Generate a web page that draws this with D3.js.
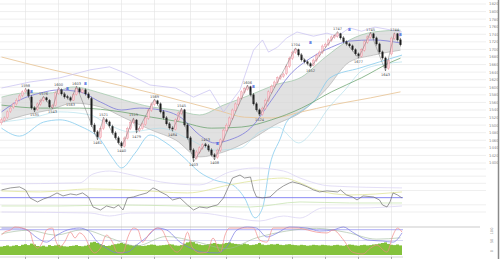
<!DOCTYPE html>
<html>
<head>
<meta charset="utf-8">
<script src="https://cdn.jsdelivr.net/npm/d3@7"></script>
<style>
  body { margin: 0; background: #fff; }
  svg { display: block; }
</style>
</head>
<body>
<script>
// daily candles (price units)
var opens = [
  1506,1512,1520,1536,1547,1556,1567,1578,1589,1594,
  1575,1546,1541,1555,1566,1573,1566,1547,1552,1584,
  1594,1583,1576,1573,1566,1581,1597,1587,1594,1583,
  1571,1501,1483,1468,1491,1515,1509,1497,1480,1467,
  1454,1444,1465,1491,1507,1514,1486,1491,1502,1518,
  1539,1555,1565,1557,1536,1520,1504,1493,1489,1513,
  1531,1541,1501,1467,1435,1412,1428,1439,1449,1446,
  1435,1422,1415,1433,1460,1486,1499,1518,1539,1555,
  1571,1587,1595,1602,1581,1557,1541,1528,1544,1565,
  1587,1602,1613,1624,1629,1636,1655,1676,1692,1700,
  1686,1673,1668,1663,1658,1671,1684,1692,1708,1713,
  1724,1732,1735,1742,1731,1721,1715,1710,1700,1689,
  1682,1698,1719,1732,1742,1731,1715,1694,1678,1650,
  1688,1729,1742,1726];
var highs = [
  1519,1523,1539,1550,1560,1571,1582,1592,1598,1596,
  1579,1550,1560,1570,1576,1575,1569,1556,1589,1600,
  1597,1587,1580,1576,1586,1603,1600,1597,1597,1587,
  1575,1506,1487,1497,1521,1518,1512,1501,1484,1471,
  1458,1470,1496,1512,1519,1516,1497,1507,1523,1544,
  1560,1569,1567,1560,1540,1524,1508,1497,1518,1536,
  1545,1543,1505,1471,1439,1434,1444,1452,1453,1450,
  1439,1426,1438,1465,1491,1505,1523,1544,1560,1576,
  1592,1600,1606,1604,1585,1561,1544,1549,1570,1592,
  1607,1618,1629,1634,1639,1660,1681,1697,1704,1702,
  1690,1676,1671,1666,1676,1689,1697,1713,1718,1729,
  1737,1740,1747,1744,1735,1724,1718,1713,1703,1692,
  1703,1724,1737,1745,1744,1734,1718,1697,1681,1676,
  1734,1744,1743,1730];
var lows = [
  1501,1508,1516,1532,1543,1552,1563,1574,1585,1573,
  1541,1535,1538,1551,1562,1562,1545,1543,1549,1580,
  1578,1570,1568,1563,1564,1578,1584,1584,1578,1568,
  1495,1477,1461,1464,1487,1504,1494,1475,1462,1449,
  1440,1441,1462,1487,1503,1479,1482,1488,1498,1514,
  1535,1551,1552,1531,1515,1499,1488,1484,1486,1509,
  1527,1496,1462,1430,1403,1409,1424,1435,1441,1430,
  1417,1408,1411,1429,1456,1482,1495,1514,1535,1551,
  1567,1583,1591,1576,1552,1536,1524,1525,1540,1561,
  1583,1598,1609,1620,1625,1632,1651,1672,1688,1681,
  1668,1663,1658,1652,1655,1667,1680,1688,1704,1709,
  1720,1728,1731,1726,1716,1710,1705,1695,1684,1677,
  1679,1694,1715,1728,1726,1710,1689,1673,1643,1646,
  1684,1725,1721,1708];
var closes = [
  1514,1519,1535,1545,1556,1566,1577,1588,1593,1577,
  1545,1540,1556,1566,1572,1566,1548,1551,1585,1593,
  1582,1574,1572,1566,1582,1596,1588,1593,1582,1572,
  1500,1482,1469,1492,1514,1508,1498,1479,1466,1453,
  1445,1466,1492,1508,1514,1487,1492,1503,1519,1540,
  1556,1564,1556,1535,1519,1503,1492,1490,1514,1532,
  1540,1500,1466,1434,1413,1429,1440,1448,1445,1434,
  1421,1416,1434,1461,1487,1500,1519,1540,1556,1572,
  1588,1596,1601,1580,1556,1540,1529,1545,1566,1588,
  1603,1614,1625,1630,1635,1656,1677,1693,1699,1685,
  1672,1667,1662,1656,1672,1685,1693,1709,1714,1725,
  1733,1736,1741,1730,1720,1714,1709,1699,1688,1683,
  1699,1720,1733,1741,1730,1714,1693,1677,1651,1672,
  1730,1741,1725,1712];
var volumes = [
  28,30,32,29,31,33,30,34,36,33, 38,35,30,29,31,28,33,30,32,34,
  31,29,28,30,31,33,30,29,31,34, 42,44,40,36,33,30,31,34,36,38,
  40,37,35,33,31,34,32,30,31,33, 35,34,31,32,33,34,36,35,32,31,
  33,38,42,45,43,38,35,33,34,36, 38,40,37,36,38,40,42,39,37,36,
  35,38,36,33,34,36,40,35,33,34, 36,35,37,34,33,35,36,34,33,32,
  34,33,31,32,34,33,32,34,33,32, 31,33,34,32,31,33,35,34,32,31,
  33,34,32,33,35,36,38,40,42,37, 34,33,35,32];

// turning points (day index, H = high / L = low)
var pivotDays  = [8,11,14,17,19,23,25,32,34,40,44,45,51,57,60,64,68,71,82,86,98,103,112,119,123,128,131];
var pivotKinds = ['H','L','H','L','H','L','H','L','H','L','H','L','H','L','H','L','H','L','H','L','H','L','H','L','H','L','H'];

// month grid (day index) and price ticks
var monthDays = [8,19,29,40,51,63,75,86,97,108,119,130];
var priceTicks = [1400,1420,1440,1460,1480,1500,1520,1540,1560,1580,1600,1620,1640,1660,1680,1700,1720,1740,1760,1780,1800,1820];
var oscTicks = [-10,-5,5,10,15,20];
var stochLabels = ['100','50','0'];

// indicator lines [day, price]
var longMA = [[0,1680],[16,1648],[33,1617],[50,1585],[63,1558],[73,1537],[81,1521],[90,1519],[100,1535],[110,1553],[123,1572],[133,1588]];
var midMA = [[0,1535],[6,1566],[13,1585],[19,1593],[26,1588],[33,1561],[40,1540],[46,1545],[53,1540],[60,1519],[66,1474],[71,1453],[76,1461],[83,1492],[90,1566],[96,1632],[103,1677],[110,1706],[116,1722],[124,1725],[133,1717]];
var slowMA = [[0,1553],[13,1545],[26,1545],[40,1535],[50,1521],[60,1508],[70,1492],[80,1495],[90,1514],[100,1545],[110,1588],[120,1625],[130,1667],[133,1677]];
var cloudDays = [0,8,16,24,33,41,50,58,66,74,83,91,100,108,116,124,133];
var spanA = [1574,1585,1585,1601,1585,1566,1548,1540,1527,1553,1580,1606,1627,1680,1725,1746,1751];
var spanB = [1508,1527,1540,1558,1548,1519,1487,1461,1416,1429,1461,1500,1535,1593,1667,1685,1698];
var upperBand = [[0,1598],[9.5,1614],[19.5,1625],[29.5,1646],[36,1654],[43,1632],[49.5,1606],[58,1598],[64,1574],[69.5,1593],[74,1535],[79.5,1593],[84,1698],[87,1725],[89,1693],[92,1706],[95,1730],[98.5,1746],[104,1735],[108.5,1743],[112,1735],[116,1757],[120,1748],[124.5,1759],[133.5,1746]];
var lowerBand = [[0,1492],[6,1471],[14,1508],[19.5,1514],[26,1498],[33,1461],[37,1413],[40,1387],[44.5,1426],[49.5,1474],[54.5,1455],[61,1413],[66,1376],[71,1355],[77,1342],[81,1308],[84.5,1255],[87,1281],[89.5,1395],[93,1466],[95,1508],[99.5,1535],[104.5,1566],[109.5,1625],[119.5,1651],[126,1667],[133.5,1685]];
var lowerBand2 = [[0,1508],[10,1519],[19.5,1535],[29.5,1527],[36,1500],[43,1482],[53,1492],[63,1461],[71,1434],[79.5,1439],[86,1482],[92,1495],[99,1453],[104,1487],[108.5,1540],[114.5,1593],[120.5,1646],[128,1662],[133.5,1667]];
var blueMarks = [[10,1585],[22,1593],[28,1606],[72,1447],[84,1597],[103,1714],[116,1749],[133,1735]];

// oscillator panel [day, value]
var oscMain = [[0,5.4],[3,6.8],[6,7.5],[8,5.4],[9.5,-0.2],[12,-3.0],[14,-0.9],[16,0.5],[18.5,3.3],[20.5,1.2],[23,2.6],[25,1.9],[27,3.3],[29,0.5],[30.5,-6.5],[33,-8.6],[35,-5.8],[37.5,-7.2],[39,-5.1],[40.5,-8.6],[42,-0.2],[44,0.5],[46,1.9],[48.5,3.3],[50.5,6.8],[52,5.4],[53,4.0],[55,1.9],[57,-1.6],[59.5,-0.2],[62,-5.1],[64,-8.6],[66,-6.5],[68.5,-7.2],[70.5,-5.8],[72,-5.1],[74,-0.2],[75.5,6.8],[77,13.7],[79.5,15.8],[81,13.7],[83,14.4],[84,5.4],[85,0.5],[87,-0.2],[89.5,0.5],[92,5.4],[94,8.2],[96,10.3],[97,11.0],[99.5,9.6],[102,7.5],[104,5.4],[106,4.0],[108.5,4.7],[112,4.0],[113,5.4],[115,1.9],[117,0.5],[118.5,-1.6],[120.5,1.2],[124,0.5],[126,-1.6],[127,-5.1],[128.5,-6.5],[129.5,-3.0],[130.5,3.3],[132,1.9],[133.5,-0.2]];
var oscUpper = [[0,4.7],[13,4.0],[29.5,6.1],[43,5.4],[62,3.3],[76,8.9],[86,12.4],[94,13.7],[99.5,10.3],[105,5.4],[116,1.9],[133.5,4.0]];
var oscUpper2 = [[0,9.6],[26,10.3],[30.5,16.5],[36,18.6],[42,16.5],[53,11.0],[66,8.9],[76,17.9],[84.5,20.7],[94,18.6],[99.5,13.7],[109.5,8.2],[133.5,6.8]];
var oscLower = [[0,-5.8],[19.5,-5.8],[39.5,-5.1],[59.5,-5.8],[83,-6.5],[99.5,-3.0],[116,-3.7],[133.5,-3.7]];
var oscLower2 = [[0,-10],[29.5,-10.7],[36,-12.8],[43,-10.7],[66,-10.7],[76,-13.5],[86,-16.3],[94,-12.8],[99.5,-14.2],[107,-7.2],[119.5,-7.2],[133.5,-5.8]];

// stochastics panel [day, %]
var stochK = [[0,70],[1,81],[3,89],[4.5,100],[7,96],[9.5,81],[10.5,44],[12,22],[13.5,41],[15,89],[17,96],[18,52],[19.5,26],[21,44],[23,81],[24.5,59],[26,78],[28,59],[29.5,22],[31,4],[33,22],[35,70],[37,44],[38.5,7],[40.5,4],[42,59],[44,96],[45.5,89],[47,44],[49.5,78],[52,96],[53.5,89],[55.5,44],[58.5,7],[60.5,33],[62,81],[63.5,26],[66,4],[68.5,7],[70.5,59],[73,7],[74.5,70],[76,96],[79.5,96],[84,96],[86,52],[88.5,44],[90.5,96],[95,96],[98.5,96],[102,89],[105,81],[108.5,78],[110.5,89],[114,52],[117,7],[120.5,0],[123,22],[125,33],[128.5,7],[130.5,70],[132,96],[133.5,81]];
var stochD = [[0,96],[6,96],[8.5,89],[12,59],[15,44],[18.5,70],[22,89],[26,96],[29,85],[32,44],[35,22],[38.5,4],[42,7],[45,33],[48.5,63],[52,96],[55,89],[59.5,44],[63,22],[67,7],[72,4],[75,26],[78.5,89],[82,100],[85,96],[88.5,63],[92,78],[96,100],[102,96],[106,85],[110.5,89],[114,100],[117,81],[122,52],[127,48],[130.5,44],[133.5,78]];
var stochSlow = [[0,75],[9,88],[18,70],[27,90],[36,60],[45,30],[55,65],[65,45],[75,20],[85,60],[95,85],[105,95],[115,80],[125,55],[133,60]];

var width = 500, height = 259;

var svg = d3.select('body').append('svg')
    .attr('width', width)
    .attr('height', height)
    .style('font-family', 'DejaVu Sans, sans-serif');

var n = closes.length;
var x = d3.scaleLinear().domain([0, n - 1]).range([1.5, 400.5]);
var y = d3.scaleLinear().domain([1400, 1820]).range([163, 4]);
var yOsc = d3.scaleLinear().domain([-10, 20]).range([212, 169]);
var yStoch = d3.scaleLinear().domain([0, 100]).range([254, 227]);
var yVol = d3.scaleLinear().domain([0, 50]).range([255, 240]);

var gridRight = 486, dataRight = x(n - 1) + 2.5;

/* grid */
svg.append('g').selectAll('line').data(monthDays).enter().append('line')
    .attr('x1', d => x(d)).attr('x2', d => x(d))
    .attr('y1', 0).attr('y2', 257)
    .attr('stroke', '#e2e2e2').attr('stroke-width', 0.6);

svg.append('g').selectAll('line').data(priceTicks).enter().append('line')
    .attr('x1', 0).attr('x2', gridRight)
    .attr('y1', d => y(d)).attr('y2', d => y(d))
    .attr('stroke', '#e4e4e4').attr('stroke-width', 0.6);

svg.append('g').selectAll('text').data(priceTicks).enter().append('text')
    .attr('x', 489).attr('y', d => y(d) + 1.4)
    .attr('font-size', 3.8).attr('fill', '#8a8a8a')
    .text(d => d);

svg.append('g').selectAll('line').data(oscTicks).enter().append('line')
    .attr('x1', 0).attr('x2', gridRight)
    .attr('y1', d => yOsc(d)).attr('y2', d => yOsc(d))
    .attr('stroke', '#e4e4e4').attr('stroke-width', 0.6);

svg.append('line').attr('x1', 0).attr('x2', 480)
    .attr('y1', yStoch(100)).attr('y2', yStoch(100))
    .attr('stroke', '#aaa').attr('stroke-width', 0.6);

/* ichimoku cloud */
var cloud = cloudDays.map((d, i) => [d, spanA[i], spanB[i]]);
svg.append('path').datum(cloud)
    .attr('d', d3.area().x(d => x(d[0])).y0(d => y(d[1])).y1(d => y(d[2])).curve(d3.curveMonotoneX))
    .attr('fill', '#d4d4d4').attr('fill-opacity', 0.7);
svg.append('path').datum(cloud)
    .attr('d', d3.line().x(d => x(d[0])).y(d => y(d[1])).curve(d3.curveMonotoneX))
    .attr('fill', 'none').attr('stroke', '#8fbf9a').attr('stroke-width', 0.6);
svg.append('path').datum(cloud)
    .attr('d', d3.line().x(d => x(d[0])).y(d => y(d[2])).curve(d3.curveMonotoneX))
    .attr('fill', 'none').attr('stroke', '#a9a9a9').attr('stroke-width', 0.6);

/* indicator lines */
function drawLine(data, scale, color, w, curve) {
    svg.append('path').datum(data)
        .attr('d', d3.line().x(d => x(d[0])).y(d => scale(d[1])).curve(curve || d3.curveMonotoneX))
        .attr('fill', 'none')
        .attr('stroke', color)
        .attr('stroke-width', w);
}

drawLine(longMA, y, '#e9c79c', 0.9);
drawLine(upperBand, y, '#c5bff0', 0.7, d3.curveLinear);
drawLine(lowerBand, y, '#86cbee', 0.8);
drawLine(lowerBand2, y, '#a9dcea', 0.6);
drawLine(slowMA, y, '#5f9c63', 0.7);
drawLine(midMA, y, '#7c7adb', 0.8);

/* candles */
var days = d3.range(n);
var candle = svg.append('g').selectAll('g').data(days).enter().append('g');
candle.append('line')
    .attr('x1', i => x(i)).attr('x2', i => x(i))
    .attr('y1', i => y(highs[i])).attr('y2', i => y(lows[i]))
    .attr('stroke', i => closes[i] >= opens[i] ? '#ea8894' : '#222')
    .attr('stroke-width', 0.5);
candle.append('rect')
    .attr('x', i => x(i) - 1)
    .attr('width', 2)
    .attr('y', i => y(Math.max(opens[i], closes[i])))
    .attr('height', i => Math.max(0.7, Math.abs(y(opens[i]) - y(closes[i]))))
    .attr('fill', i => closes[i] >= opens[i] ? '#fbd2d8' : '#1b1b1b')
    .attr('stroke', i => closes[i] >= opens[i] ? '#ea8894' : 'none')
    .attr('stroke-width', 0.35);

/* zigzag through the turning points + their labels */
var pivots = pivotDays.map((d, i) => ({day: d, kind: pivotKinds[i], value: pivotKinds[i] == 'H' ? highs[d] : lows[d]}));
svg.append('path').datum(pivots)
    .attr('d', d3.line().x(d => x(d.day)).y(d => y(d.value)))
    .attr('fill', 'none').attr('stroke', '#666').attr('stroke-width', 0.45);
svg.append('g').selectAll('text').data(pivots).enter().append('text')
    .attr('x', d => x(d.day))
    .attr('y', d => d.kind == 'H' ? y(d.value) - 1.5 : y(d.value) + 4.5)
    .attr('text-anchor', 'middle')
    .attr('font-size', 3.6).attr('fill', '#555')
    .text(d => d.value);

svg.append('g').selectAll('text').data(blueMarks).enter().append('text')
    .attr('x', d => x(d[0])).attr('y', d => y(d[1]))
    .attr('text-anchor', 'middle')
    .attr('font-size', 4).attr('font-weight', 'bold').attr('fill', '#3b5bdb')
    .text('8');

/* oscillator */
drawLine(oscUpper2, yOsc, '#dcd6f4', 0.8);
drawLine(oscUpper, yOsc, '#dfe59c', 0.8);
drawLine(oscLower, yOsc, '#c9e5b4', 0.8);
drawLine(oscLower2, yOsc, '#dcd6f4', 0.8);
svg.append('line').attr('x1', 0).attr('x2', dataRight)
    .attr('y1', yOsc(0)).attr('y2', yOsc(0))
    .attr('stroke', '#6d6df0').attr('stroke-width', 0.8);
drawLine(oscMain, yOsc, '#6e6e6e', 0.7, d3.curveLinear);

/* volume + stochastics */
svg.append('g').selectAll('rect').data(days).enter().append('rect')
    .attr('x', i => x(i) - 1.5)
    .attr('width', 3)
    .attr('y', i => yVol(volumes[i]))
    .attr('height', i => yVol(0) - yVol(volumes[i]))
    .attr('fill', '#84c23c');

svg.append('line').attr('x1', 0).attr('x2', dataRight)
    .attr('y1', yStoch(90)).attr('y2', yStoch(90))
    .attr('stroke', '#8c8cf0').attr('stroke-width', 0.7);
svg.append('line').attr('x1', 0).attr('x2', dataRight)
    .attr('y1', yStoch(50)).attr('y2', yStoch(50))
    .attr('stroke', '#c9c9ee').attr('stroke-width', 0.7);

drawLine(stochSlow, yStoch, '#9db89a', 0.6);
drawLine(stochD, yStoch, '#7a7ae2', 0.7);
drawLine(stochK, yStoch, '#f08a8a', 0.7);

svg.append('g').selectAll('text').data(stochLabels).enter().append('text')
    .attr('transform', (d, i) => 'translate(493,' + (231 + i * 10) + ') rotate(-90)')
    .attr('text-anchor', 'middle')
    .attr('font-size', 3.6).attr('fill', '#8a8a8a')
    .text(d => d);

/* time axis */
svg.append('line').attr('x1', 0).attr('x2', dataRight)
    .attr('y1', 257).attr('y2', 257)
    .attr('stroke', '#bbb').attr('stroke-width', 0.6);
svg.append('g').selectAll('line').data(monthDays).enter().append('line')
    .attr('x1', d => x(d)).attr('x2', d => x(d))
    .attr('y1', 257).attr('y2', 259)
    .attr('stroke', '#777').attr('stroke-width', 0.6);

svg.append('line').attr('x1', 498.5).attr('x2', 498.5)
    .attr('y1', 0).attr('y2', height)
    .attr('stroke', '#8a8a8a').attr('stroke-width', 1.5);
</script>
</body>
</html>
